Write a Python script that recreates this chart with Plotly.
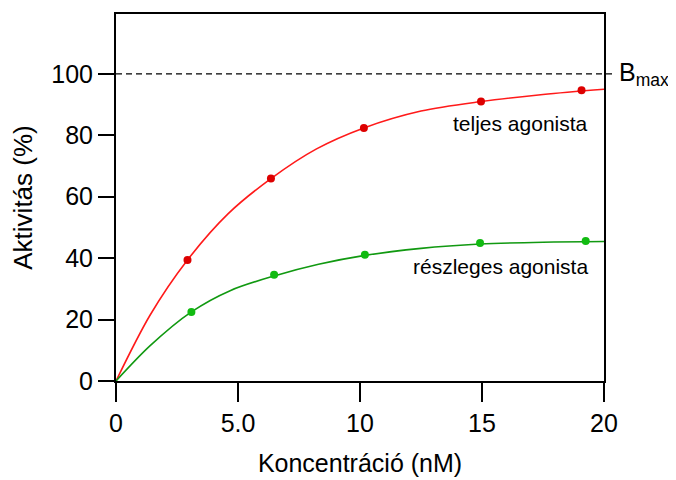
import plotly.graph_objects as go

# Data
conc_full = [2.93, 6.35, 10.16, 14.96, 19.08]
act_full = [39.4, 65.9, 82.4, 91.0, 94.7]
conc_partial = [3.09, 6.48, 10.2, 14.92, 19.25]
act_partial = [22.5, 34.6, 41.1, 44.9, 45.6]

# fitted curves
curve_x_full = [0, 1.4, 2.93, 4.6, 6.35, 8.2, 10.16, 12.5, 14.96, 17.5, 20]
curve_y_full = [0, 21.5, 39.4, 54.5, 65.9, 75.5, 82.4, 87.9, 91.0, 93.3, 95.0]
curve_x_partial = [0, 1.4, 3.09, 4.7, 6.48, 8.3, 10.2, 12.5, 14.92, 17.5, 20]
curve_y_partial = [0, 11.5, 22.5, 29.5, 34.2, 38.0, 40.9, 43.2, 44.6, 45.2, 45.4]

x_ticks = [0, 5, 10, 15, 20]
x_tick_labels = ["0", "5.0", "10", "15", "20"]
y_ticks = [0, 20, 40, 60, 80, 100]
bmax = 100

FONT = "Liberation Sans, Arial, sans-serif"

fig = go.Figure()
fig.add_trace(go.Scatter(x=curve_x_full, y=curve_y_full, mode="lines",
                         line=dict(color="#ff1a1a", width=1.6, shape="spline", smoothing=0.9),
                         hoverinfo="skip"))
fig.add_trace(go.Scatter(x=curve_x_partial, y=curve_y_partial, mode="lines",
                         line=dict(color="#119911", width=1.6, shape="spline", smoothing=0.9),
                         hoverinfo="skip"))
fig.add_trace(go.Scatter(x=conc_full, y=act_full, mode="markers",
                         marker=dict(color="#dd0000", size=8)))
fig.add_trace(go.Scatter(x=conc_partial, y=act_partial, mode="markers",
                         marker=dict(color="#11bb11", size=8)))

fig.add_shape(type="line", xref="paper", yref="y", x0=0, x1=1.018, y0=bmax, y1=bmax,
              line=dict(color="black", width=1.2, dash="6px,4px"))
fig.add_annotation(x=1.026, xref="paper", y=bmax, yref="y", xanchor="left", yanchor="middle",
                   text="B<sub>max</sub>", showarrow=False,
                   font=dict(family=FONT, size=25, color="black"))
fig.add_annotation(x=16.56, y=83.9, text="teljes agonista", showarrow=False,
                   font=dict(family=FONT, size=21, color="black"))
fig.add_annotation(x=15.76, y=37.3, text="részleges agonista", showarrow=False,
                   font=dict(family=FONT, size=21, color="black"))

fig.update_layout(
    width=668, height=472,
    margin=dict(l=108, r=72, t=4, b=99),
    paper_bgcolor="white", plot_bgcolor="white",
    showlegend=False,
    font=dict(family=FONT, color="black"),
    xaxis=dict(range=[0, 20], tickvals=x_ticks, ticktext=x_tick_labels,
               showgrid=False, zeroline=False, showline=True, linecolor="black", linewidth=2,
               mirror=True, ticks="outside", ticklen=19, tickwidth=2, tickcolor="black",
               tickfont=dict(size=25, family=FONT),
               title=dict(text="Koncentráció (nM)", font=dict(size=25, family=FONT), standoff=18)),
    yaxis=dict(range=[0, 119.5], tickvals=y_ticks,
               showgrid=False, zeroline=False, showline=True, linecolor="black", linewidth=2,
               mirror=True, ticks="outside", ticklen=16, tickwidth=2, tickcolor="black",
               tickfont=dict(size=25, family=FONT),
               title=dict(text="Aktivitás (%)", font=dict(size=26, family=FONT), standoff=12)),
)

fig.write_html("out.html")
